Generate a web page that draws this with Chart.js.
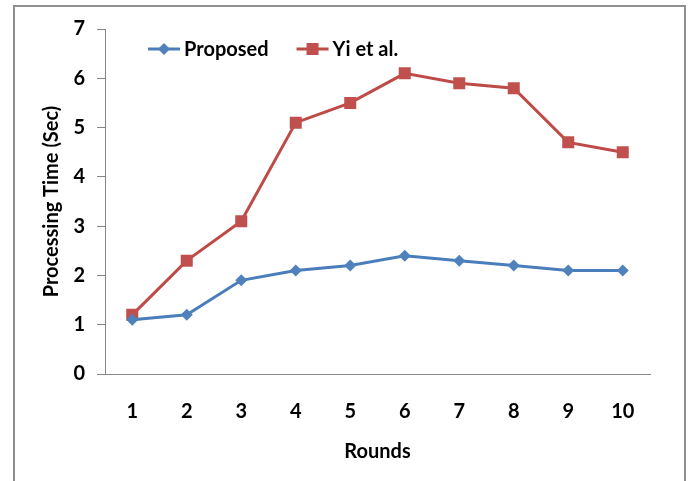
<!DOCTYPE html>
<html><head><meta charset="utf-8">
<script src="https://cdn.jsdelivr.net/npm/chart.js@4"></script>
<style>
html,body{margin:0;padding:0;background:#fff;overflow:hidden}
#wrap{position:relative;width:688px;height:481px}
#frame{position:absolute;left:13px;top:5px;width:669px;height:500px;border:2px solid #8e8e8e;border-left-width:2px}
canvas{position:absolute;left:0;top:0}
</style></head>
<body>
<div id="wrap"><div id="frame"></div><canvas id="c" width="688" height="481"></canvas></div>
<script>
const categories = ['1','2','3','4','5','6','7','8','9','10'];
const proposed = [1.1, 1.2, 1.9, 2.1, 2.2, 2.4, 2.3, 2.2, 2.1, 2.1];
const yiEtAl = [1.2, 2.3, 3.1, 5.1, 5.5, 6.1, 5.9, 5.8, 4.7, 4.5];
const seriesNames = ['Proposed', 'Yi et al.'];
const yMin = 0, yMax = 7, yStep = 1;
const xTitle = 'Rounds';
const yTitle = 'Processing Time (Sec)';

const FONT = 'Lato';
const AXIS = '#868686';

const legendPlugin = {
  id: 'innerLegend',
  afterDraw(chart) {
    const ctx = chart.ctx;
    const y = 49;
    let x = 148;
    ctx.save();
    ctx.font = 'bold 20px ' + FONT;
    ctx.textBaseline = 'middle';
    ctx.textAlign = 'left';
    chart.data.datasets.forEach((ds) => {
      const lineLen = 32;
      ctx.strokeStyle = ds.borderColor;
      ctx.lineWidth = 3;
      ctx.beginPath(); ctx.moveTo(x, y); ctx.lineTo(x + lineLen, y); ctx.stroke();
      const cx = x + lineLen / 2;
      ctx.fillStyle = ds.pointBackgroundColor;
      ctx.beginPath();
      if (ds.pointStyle === 'rect') {
        ctx.rect(cx - 6, y - 6, 12, 12);
      } else {
        ctx.moveTo(cx, y - 6); ctx.lineTo(cx + 6, y); ctx.lineTo(cx, y + 6); ctx.lineTo(cx - 6, y); ctx.closePath();
      }
      ctx.fill();
      ctx.fillStyle = '#000';
      const tx = x + lineLen + 4;
      ctx.fillText(ds.label, tx, y + 1);
      x = tx + ctx.measureText(ds.label).width + 28;
    });
    ctx.restore();
  }
};

new Chart(document.getElementById('c'), {
  type: 'line',
  data: {
    labels: categories,
    datasets: [
      {
        label: seriesNames[0], data: proposed,
        borderColor: '#4A7EBB', backgroundColor: '#4F81BD',
        pointBackgroundColor: '#4F81BD', pointBorderColor: '#4F81BD',
        pointStyle: 'rectRot', pointRadius: 6, pointBorderWidth: 0,
        borderWidth: 3, tension: 0, fill: false
      },
      {
        label: seriesNames[1], data: yiEtAl,
        borderColor: '#BE4B48', backgroundColor: '#C0504D',
        pointBackgroundColor: '#C0504D', pointBorderColor: '#C0504D',
        pointStyle: 'rect', pointRadius: 8.5, pointBorderWidth: 0,
        borderWidth: 3, tension: 0, fill: false
      }
    ]
  },
  options: {
    responsive: false,
    animation: false,
    layout: { padding: { left: 0, top: 29, right: 38, bottom: 0 } },
    plugins: { legend: { display: false }, tooltip: { enabled: false } },
    scales: {
      x: {
        offset: true,
        grid: { display: true, drawOnChartArea: false, drawTicks: false, color: AXIS },
        border: { display: true, color: AXIS, width: 1 },
        ticks: { color: '#000', font: { family: FONT, size: 20, weight: 'bold' }, padding: 26, maxRotation: 0 },
        title: { display: true, text: xTitle, color: '#000', font: { family: FONT, size: 20, weight: 'bold' }, padding: { top: 0, bottom: 17 } },
        afterFit(s) { s.height = 107; }
      },
      y: {
        min: yMin, max: yMax,
        grid: { display: true, drawOnChartArea: false, drawTicks: true, tickLength: 8, color: AXIS },
        border: { display: true, color: AXIS, width: 1 },
        ticks: { stepSize: yStep, color: '#000', font: { family: FONT, size: 20, weight: 'bold' }, padding: 12 },
        title: { display: true, text: yTitle, color: '#000', font: { family: FONT, size: 20, weight: 'bold' }, padding: { top: 40, bottom: 0 } },
        afterFit(s) { s.width = 105; }
      }
    }
  },
  plugins: [legendPlugin]
});
</script>
</body></html>
